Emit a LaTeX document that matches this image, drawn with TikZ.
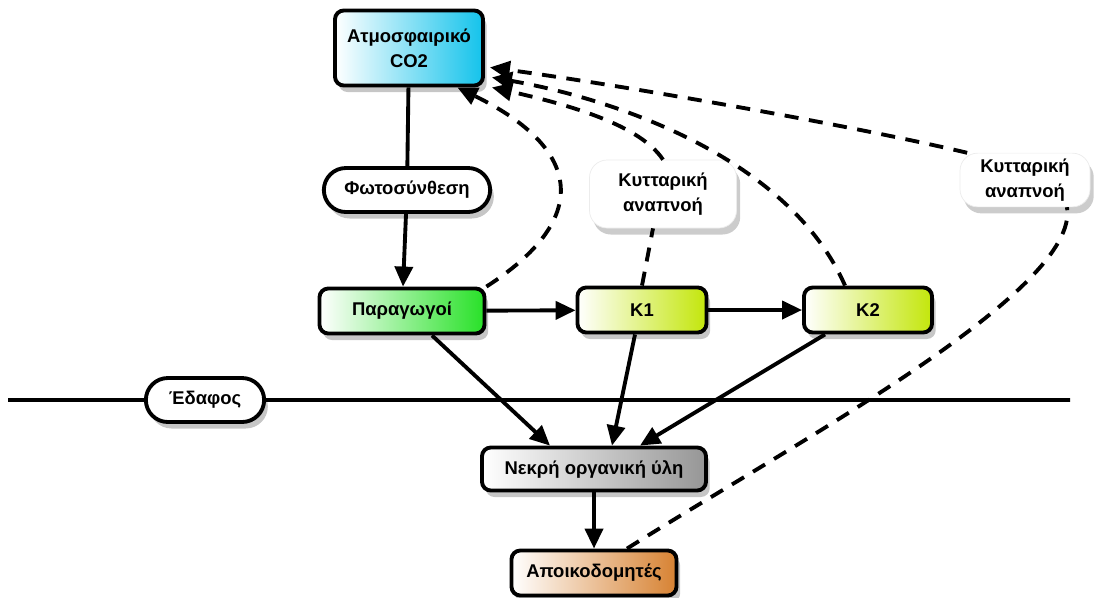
\documentclass[tikz,border=0pt]{standalone}
\usepackage{fontspec}
\setmainfont{Liberation Sans}
\usepackage{xcolor}
\usepackage{tikz}
\usetikzlibrary{arrows.meta,shadows,shapes.misc,positioning}

\definecolor{co2blue}{RGB}{20,195,235}
\definecolor{prodgreen}{RGB}{40,225,40}
\definecolor{conslime}{RGB}{195,230,10}
\definecolor{deadgray}{RGB}{150,150,150}
\definecolor{decorange}{RGB}{215,130,50}

\begin{document}
\begin{tikzpicture}[font=\fontsize{10.5}{14}\selectfont\bfseries,
        box/.style={draw, line width=2.2pt, rounded corners=5pt, align=center,
            minimum height=0.9cm, left color=white,
            drop shadow={shadow xshift=0.4ex, shadow yshift=-0.7ex, opacity=0.45}},
        pill/.style={draw, line width=2.2pt, rounded rectangle, fill=white,
            minimum height=0.88cm,
            drop shadow={shadow xshift=0.4ex, shadow yshift=-0.7ex, opacity=0.45}},
        resp/.style={draw=gray!15, rounded corners=10pt, fill=white, align=center,
            drop shadow={shadow xshift=0.4ex, shadow yshift=-0.7ex, opacity=0.4}},
        flow/.style={-{Triangle[length=4mm,width=3.6mm]}, line width=2.2pt},
        back/.style={-{Triangle[length=4mm,width=3.6mm]}, line width=2.2pt,
            dash pattern=on 8pt off 6pt}]
    \useasboundingbox (0,0) rectangle (22.02,-11.94);

    % ground line
    \coordinate (gl) at (0.16,-8);
    \coordinate (gr) at (21.4,-8);
    \node [pill, minimum width=2.6cm] (edafos) at (4.1,-8) {Έδαφος};
    \draw [line width=2.2pt] (gl) -- (edafos) -- (gr);

    % nodes
    \node [box, right color=co2blue, minimum width=2.96cm, minimum height=1.5cm] (co2) at (8.18,-0.96) {Ατμοσφαιρικό\\CO2};
    \node [pill, minimum width=3.56cm] (phot) at (8.14,-3.8) {Φωτοσύνθεση};
    \node [resp, minimum width=2.94cm, minimum height=1.36cm] (resp1) at (13.26,-3.88) {Κυτταρική\\αναπνοή};
    \node [resp, minimum width=2.6cm, minimum height=1.06cm] (resp2) at (20.5,-3.6) {Κυτταρική\\αναπνοή};
    \node [box, right color=prodgreen, minimum width=3.3cm] (par) at (8.04,-6.22) {Παραγωγοί};
    \node [box, right color=conslime, minimum width=2.58cm] (k1) at (12.84,-6.2) {K1};
    \node [box, right color=conslime, minimum width=2.56cm] (k2) at (17.36,-6.2) {K2};
    \node [box, right color=deadgray, minimum width=4.48cm, minimum height=0.86cm] (nekr) at (11.88,-9.38) {Νεκρή οργανική ύλη};
    \node [box, right color=decorange, minimum width=3.3cm] (apo) at (11.88,-11.46) {Αποικοδομητές};

    % solid flows
    \draw [line width=2.2pt] (co2) -- (phot);
    \draw [flow] (phot) -- (par);
    \draw [flow] (par) -- (k1);
    \draw [flow] (k1) -- (k2);
    \draw [flow] ([xshift=0.6cm]par.south) -- ([xshift=-0.88cm]nekr.north);
    \draw [flow] ([xshift=-0.14cm]k1.south) -- ([xshift=0.36cm]nekr.north);
    \draw [flow] ([xshift=-0.86cm]k2.south) -- ([xshift=0.92cm]nekr.north);
    \draw [flow] (nekr) -- (apo);

    % respiration back to CO2
    \draw [back] (par.north east) .. controls (11.8,-4.4) and (11.7,-3.0) .. ([xshift=-0.55cm]co2.south east);
    \draw [back, -] (k1.north) -- ([xshift=-0.2cm]resp1.south);
    \draw [back] (resp1.north) .. controls (12.8,-2.5) and (11.4,-2.1) .. ([xshift=0.14cm]co2.south east);
    \draw [back] ([xshift=-0.46cm]k2.north) .. controls (15.8,-3.2) and (12.4,-2.0) .. ([xshift=0.14cm,yshift=0.2cm]co2.south east);
    \draw [back, -] ([xshift=0.66cm]apo.north) .. controls (16.0,-8.8) and (21.6,-5.8) .. ([xshift=0.84cm]resp2.south);
    \draw [back] ([xshift=0.15cm]resp2.north west) .. controls (17.0,-2.5) and (12.4,-1.7) .. ([xshift=0.1cm,yshift=0.4cm]co2.south east);
\end{tikzpicture}
\end{document}
